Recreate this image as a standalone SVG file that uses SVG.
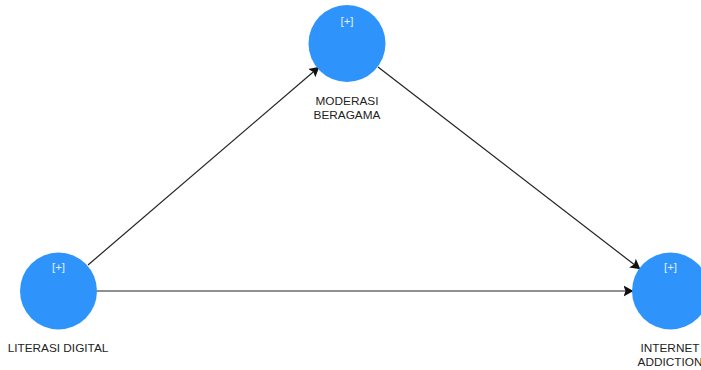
<svg xmlns="http://www.w3.org/2000/svg" width="701" height="370" viewBox="0 0 701 370">
<style>
.n{fill:#2e94fb}
.p{font:11.500px "Liberation Sans",Arial,sans-serif;fill:#fff;text-anchor:middle;opacity:.85}
.l{font:11.800px "Liberation Sans",Arial,sans-serif;fill:#222;text-anchor:middle}
.c{stroke:#222;stroke-width:1.2;fill:none;marker-end:url(#a)}
</style>
<defs><marker id="a" markerUnits="userSpaceOnUse" markerWidth="11" markerHeight="13" refX="9.500" refY="6.500" orient="auto"><path d="M0 1L10 6.500L0 12L2 6.500z" fill="#111"/></marker></defs>
<rect width="701" height="370" fill="#fff"/>
<g id="connectors">
<path class="c" d="M88 265L319 67"/>
<path class="c" d="M378 67L640 269"/>
<path class="c" d="M97 291L633 291"/>
</g>
<g id="literasi-digital"><circle class="n" cx="58.500" cy="291" r="38.500"/><text class="p" x="58.500" y="270.500">[+]</text><text class="l" x="58" y="352">LITERASI DIGITAL</text></g>
<g id="moderasi-beragama"><circle class="n" cx="347" cy="43.500" r="38.500"/><text class="p" x="347" y="24.500">[+]</text><text class="l" x="347" y="105">MODERASI</text><text class="l" x="347" y="119">BERAGAMA</text></g>
<g id="internet-addiction"><circle class="n" cx="670.500" cy="291" r="38.500"/><text class="p" x="670.500" y="270.500">[+]</text><text class="l" x="670" y="352">INTERNET</text><text class="l" x="670" y="366">ADDICTION</text></g>
</svg>
